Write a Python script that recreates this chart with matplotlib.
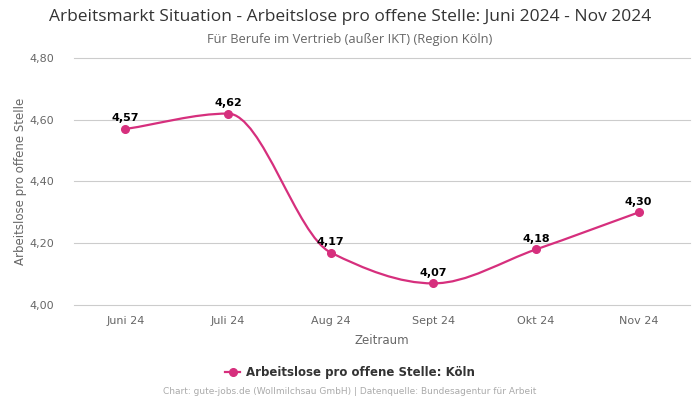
import matplotlib.pyplot as plt
import numpy as np
from matplotlib.path import Path
from matplotlib.patches import PathPatch
from matplotlib.lines import Line2D

# Daten
monate = ["Juni 24", "Juli 24", "Aug 24", "Sept 24", "Okt 24", "Nov 24"]
werte = [4.57, 4.62, 4.17, 4.07, 4.18, 4.30]
wert_labels = ["4,57", "4,62", "4,17", "4,07", "4,18", "4,30"]
y_ticks = [4.00, 4.20, 4.40, 4.60, 4.80]
y_tick_labels = ["4,00", "4,20", "4,40", "4,60", "4,80"]

farbe = "#d62f7d"

fig = plt.figure(figsize=(7, 4), dpi=100)
ax = fig.add_axes([0.1057, 0.2375, 0.88, 0.6175])

x = np.arange(len(werte))
y = np.array(werte)

# monotone Kurve als Bezier-Pfad (Glaettung wie im Original)
d = np.diff(y) / np.diff(x)
m = np.zeros(len(y))
m[0] = d[0]
m[-1] = d[-1]
for i in range(1, len(y) - 1):
    if d[i - 1] * d[i] <= 0:
        m[i] = 0
    else:
        m[i] = 2 / (1 / d[i - 1] + 1 / d[i])
verts = [(x[0], y[0])]
codes = [Path.MOVETO]
for i in range(len(y) - 1):
    h = x[i + 1] - x[i]
    verts += [(x[i] + h / 3, y[i] + m[i] * h / 3),
              (x[i + 1] - h / 3, y[i + 1] - m[i + 1] * h / 3),
              (x[i + 1], y[i + 1])]
    codes += [Path.CURVE4] * 3
ax.add_patch(PathPatch(Path(verts, codes), facecolor="none", edgecolor=farbe, lw=1.6, zorder=3))
ax.plot(x, y, "o", color=farbe, ms=5.5, zorder=4)

for xi, yi, lab in zip(x, y, wert_labels):
    ax.annotate(lab, (xi, yi), xytext=(0, 4), textcoords="offset points",
                ha="center", va="bottom", fontsize=8, fontweight="bold", color="black")

ax.set_xlim(-0.5, 5.5)
ax.set_ylim(4.0, 4.8)
ax.set_xticks(x)
ax.set_xticklabels(monate)
ax.set_yticks(y_ticks)
ax.set_yticklabels(y_tick_labels)
ax.tick_params(axis="both", length=0, labelsize=8, labelcolor="#666666")
ax.tick_params(axis="x", pad=8)
ax.tick_params(axis="y", pad=14)
ax.grid(axis="y", color="#cccccc", lw=0.8)
for gl in ax.get_ygridlines():
    gl.set_clip_on(False)
ax.set_axisbelow(True)
for s in ax.spines.values():
    s.set_visible(False)

ax.set_xlabel("Zeitraum", fontsize=8.5, color="#666666", labelpad=6)
ax.set_ylabel("Arbeitslose pro offene Stelle", fontsize=8.5, color="#666666", labelpad=2)

fig.text(0.5, 0.958, "Arbeitsmarkt Situation - Arbeitslose pro offene Stelle: Juni 2024 - Nov 2024",
         ha="center", va="center", fontsize=12.5, color="#333333", family="Open Sans")
fig.text(0.5, 0.902, "Für Berufe im Vertrieb (außer IKT) (Region Köln)",
         ha="center", va="center", fontsize=9.3, color="#666666", family="Open Sans")

handle = Line2D([], [], color=farbe, marker="o", ms=5.5, lw=1.6)
fig.legend([handle], ["Arbeitslose pro offene Stelle: Köln"], loc="center",
           bbox_to_anchor=(0.5, 0.068), frameon=False, handlelength=1.3, handletextpad=0.5,
           prop={"size": 8.5, "weight": "bold"}, labelcolor="#333333")
fig.text(0.5, 0.02, "Chart: gute-jobs.de (Wollmilchsau GmbH) | Datenquelle: Bundesagentur für Arbeit",
         ha="center", va="center", fontsize=6.5, color="#aaaaaa")

fig.savefig("out.png", dpi=100)
